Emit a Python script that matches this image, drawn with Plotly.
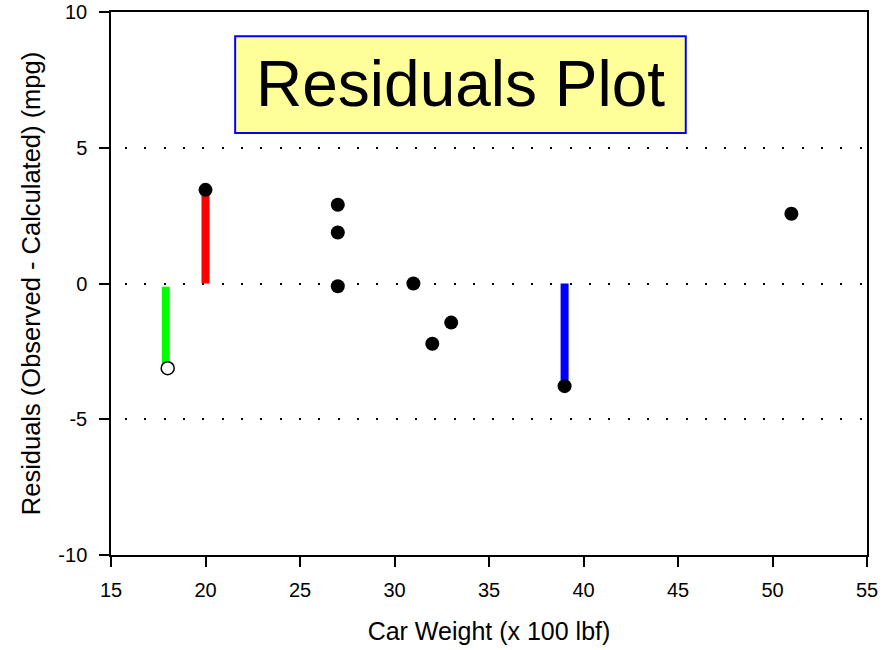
import plotly.graph_objects as go

# Residual points
pt_x = [20, 27, 27, 27, 31, 32, 33, 39, 51]
pt_y = [3.45, 2.9, 1.88, -0.1, 0.0, -2.22, -1.44, -3.78, 2.57]

# Open (highlighted) point
open_x = [18]
open_y = [-3.12]

# Residual bars
bar_x = [17.9, 20, 39]
bar_y0 = [-0.12, 0.0, 0.0]
bar_y1 = [-2.95, 3.3, -3.65]
bar_colors = ["#00ff00", "#ff0000", "#0000ff"]

x_ticks = [15, 20, 25, 30, 35, 40, 45, 50, 55]
y_ticks = [-10, -5, 0, 5, 10]
y_tick_labels = ["-10", "-5", "0", "5", "10"]

FONT = "Arial, Liberation Sans, sans-serif"

fig = go.Figure()

for x, y0, y1, c in zip(bar_x, bar_y0, bar_y1, bar_colors):
    fig.add_trace(go.Scatter(x=[x, x], y=[y0, y1], mode="lines",
                             line=dict(color=c, width=8), hoverinfo="skip"))

fig.add_trace(go.Scatter(x=pt_x, y=pt_y, mode="markers",
                         marker=dict(color="black", size=14, line=dict(width=0))))
fig.add_trace(go.Scatter(x=open_x, y=open_y, mode="markers",
                         marker=dict(color="white", size=13, line=dict(color="black", width=1.5))))

# Title box
fig.add_shape(type="rect", xref="x", yref="y", x0=21.57, x1=45.41, y0=5.54, y1=9.11,
              fillcolor="#ffff99", line=dict(color="#0000ff", width=2), layer="above")
fig.add_annotation(x=33.49, y=7.33, xref="x", yref="y", text="Residuals Plot",
                   showarrow=False, font=dict(family=FONT, size=64, color="black"),
                   xanchor="center", yanchor="middle")

axis_common = dict(
    showline=True, linecolor="black", linewidth=1.5, mirror=True,
    ticks="outside", ticklen=10, tickwidth=1.5, tickcolor="black",
    tickfont=dict(family=FONT, size=20, color="black"),
    zeroline=False, automargin=False,
)

fig.update_xaxes(range=[15, 55], tickvals=x_ticks, showgrid=False,
                 title=dict(text="Car Weight (x 100 lbf)", font=dict(family=FONT, size=25, color="black"), standoff=23),
                 ticklabelstandoff=6,
                 **axis_common)
fig.update_yaxes(range=[-10, 10], tickvals=y_ticks, ticktext=y_tick_labels, showgrid=True,
                 gridcolor="black", gridwidth=1.5, griddash="0px,14px,2px,3.33px",
                 title=dict(text="Residuals (Observed - Calculated) (mpg)", font=dict(family=FONT, size=25.5, color="black"), standoff=10),
                 ticklabelstandoff=8,
                 **axis_common)

fig.update_layout(
    width=893, height=650,
    margin=dict(l=111, r=26, t=12, b=95),
    plot_bgcolor="white", paper_bgcolor="white",
    showlegend=False,
    font=dict(family=FONT, color="black"),
)

fig.write_html("out.html")
